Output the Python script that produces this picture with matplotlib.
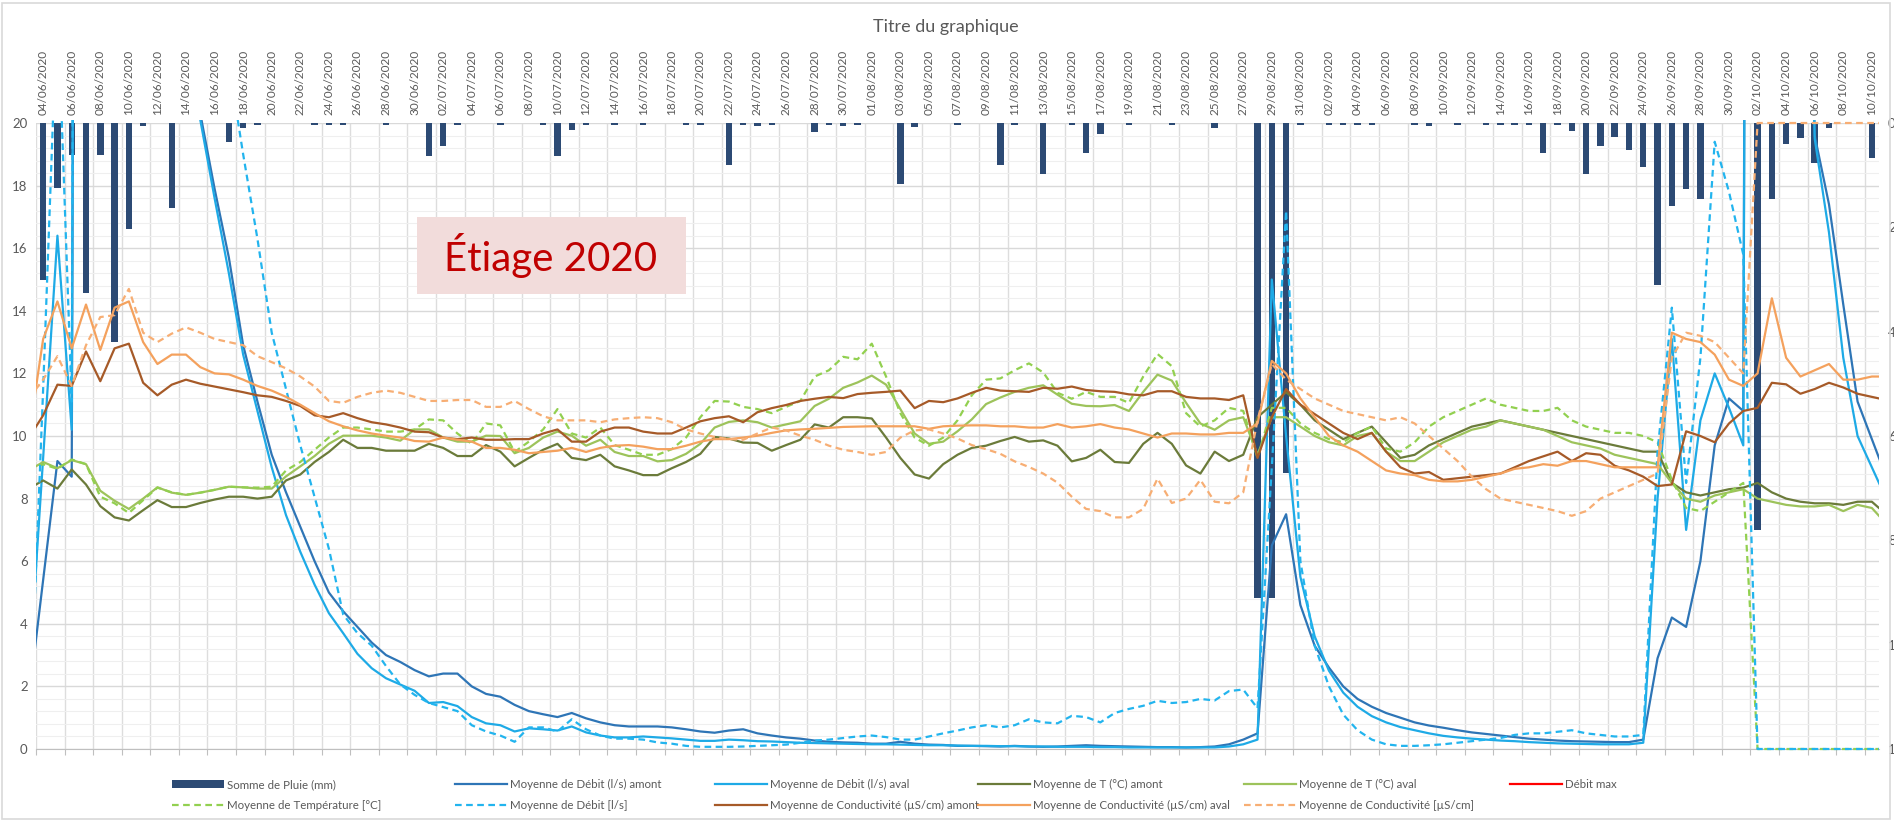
import numpy as np
import pandas as pd
import matplotlib
matplotlib.use('Agg')
import matplotlib.pyplot as plt
from matplotlib.patches import Rectangle, Patch
from matplotlib.lines import Line2D

plt.rcParams['font.family'] = ['Lato', 'DejaVu Sans']

W, H = 1894, 821
GREY_TXT = '#595959'

# daily values 03/06/2020 .. 11/10/2020 ; first and last day fall just outside the plot
dates = pd.date_range('2020-06-03', '2020-10-11', freq='D')

pluie = [0,
    3.0, 1.24, 0.61, 3.25, 0.61, 4.2, 2.04, 0.05, 0, 1.62,
    0, 0, 0, 0.37, 0.1, 0.03, 0, 0, 0, 0.03,
    0.03, 0.03, 0, 0, 0.03, 0, 0, 0.63, 0.45, 0.04,
    0, 0, 0.03, 0, 0, 0.03, 0.63, 0.13, 0.03, 0,
    0.03, 0, 0.03, 0, 0, 0.03, 0.03, 0, 0.81, 0.03,
    0.06, 0.03, 0, 0, 0.18, 0.03, 0.06, 0.03, 0, 0,
    1.16, 0.07, 0, 0, 0.03, 0, 0, 0.8, 0.03, 0,
    0.97, 0, 0.03, 0.57, 0.22, 0, 0.03, 0, 0, 0.03,
    0, 0, 0.09, 0, 0, 9.1, 9.1, 6.7, 0.03, 0,
    0.03, 0.03, 0.03, 0.03, 0, 0, 0.03, 0.05, 0, 0.03,
    0, 0.03, 0.03, 0.03, 0.03, 0.58, 0.03, 0.15, 0.97, 0.45,
    0.27, 0.52, 0.85, 3.1, 1.6, 1.27, 1.46, 0, 0, 0,
    7.8, 1.46, 0.4, 0.29, 0.77, 0.1, 0, 0, 0.67,
    0]

debit_amont = [1.6,
    5.4, 9.2, 8.7, 150, 120, 100, 90, 80, 70, 60,
    40, 20.3, 17.9, 15.7, 12.9, 11.1, 9.4, 8.2, 7.1, 6.0,
    5.0, 4.4, 3.9, 3.4, 3.0, 2.78, 2.52, 2.32, 2.41, 2.41,
    2.0, 1.76, 1.67, 1.41, 1.21, 1.11, 1.02, 1.15, 0.98, 0.85,
    0.76, 0.72, 0.72, 0.72, 0.69, 0.63, 0.56, 0.52, 0.59, 0.63,
    0.5, 0.43, 0.37, 0.33, 0.27, 0.23, 0.21, 0.2, 0.17, 0.17,
    0.23, 0.17, 0.14, 0.13, 0.1, 0.1, 0.09, 0.08, 0.1, 0.08,
    0.07, 0.08, 0.1, 0.12, 0.1, 0.09, 0.08, 0.07, 0.06, 0.06,
    0.05, 0.06, 0.08, 0.15, 0.3, 0.5, 6.5, 7.5, 4.6, 3.3,
    2.6, 2.0, 1.6, 1.35, 1.15, 1.0, 0.85, 0.75, 0.68, 0.6,
    0.53, 0.48, 0.43, 0.38, 0.33, 0.3, 0.27, 0.25, 0.24, 0.23,
    0.22, 0.22, 0.3, 2.9, 4.2, 3.9, 6.0, 9.7, 11.2, 10.8,
    150, 120, 80, 40, 19.6, 17.4, 14.2, 11.1, 9.9,
    8.7]

debit_aval = [2.3,
    9.3, 16.4, 10.2, 150, 120, 100, 90, 80, 70, 60,
    40, 20.1, 17.6, 15.2, 12.6, 10.8, 9.0, 7.47, 6.3, 5.25,
    4.34, 3.7, 3.04, 2.58, 2.26, 2.06, 1.86, 1.47, 1.5, 1.37,
    1.02, 0.82, 0.76, 0.56, 0.66, 0.63, 0.59, 0.72, 0.53, 0.43,
    0.37, 0.37, 0.4, 0.37, 0.34, 0.3, 0.26, 0.26, 0.3, 0.28,
    0.25, 0.24, 0.22, 0.2, 0.19, 0.18, 0.17, 0.16, 0.15, 0.15,
    0.14, 0.13, 0.12, 0.12, 0.11, 0.1, 0.1, 0.09, 0.09, 0.08,
    0.08, 0.07, 0.07, 0.07, 0.06, 0.06, 0.05, 0.05, 0.05, 0.05,
    0.05, 0.05, 0.05, 0.08, 0.15, 0.3, 15.0, 10.0, 5.5, 3.6,
    2.5, 1.8, 1.35, 1.05, 0.85, 0.7, 0.6, 0.5, 0.42, 0.37,
    0.33, 0.3, 0.27, 0.25, 0.22, 0.2, 0.18, 0.17, 0.16, 0.15,
    0.15, 0.15, 0.2, 8.0, 13.1, 7.0, 10.5, 12.0, 10.9, 9.7,
    150, 120, 80, 40, 19.5, 16.5, 12.5, 10.0, 9.0,
    8.0]

debit = [0,
    11.5, 24, 11.1, 150, 120, 100, 90, 80, 70, 60,
    40, 30, 25, 21.9, 19.0, 16.3, 13.3, 11.5, 9.7, 8.05,
    6.4, 4.3, 3.7, 3.3, 2.65, 2.06, 1.73, 1.47, 1.34, 1.21,
    0.76, 0.56, 0.43, 0.23, 0.69, 0.69, 0.56, 0.95, 0.63, 0.43,
    0.33, 0.33, 0.3, 0.21, 0.17, 0.1, 0.07, 0.07, 0.07, 0.08,
    0.1, 0.12, 0.14, 0.2, 0.27, 0.3, 0.35, 0.4, 0.43, 0.38,
    0.3, 0.3, 0.4, 0.5, 0.59, 0.69, 0.76, 0.69, 0.76, 0.95,
    0.85, 0.82, 1.06, 1.02, 0.85, 1.15, 1.28, 1.38, 1.54, 1.47,
    1.5, 1.6, 1.55, 1.85, 1.9, 1.3, 9.0, 17.2, 6.0, 3.3,
    2.0, 1.1, 0.6, 0.3, 0.15, 0.1, 0.1, 0.12, 0.15, 0.2,
    0.25, 0.3, 0.35, 0.45, 0.5, 0.5, 0.55, 0.6, 0.5, 0.45,
    0.4, 0.4, 0.45, 9.5, 14.1, 8.5, 12.5, 19.4, 17.8, 15.8,
    0, 0, 0, 0, 0, 0, 0, 0, 0,
    0]

t_amont = [8.32,
    8.58, 8.32, 8.93, 8.45, 7.76, 7.4, 7.3, 7.63, 7.95, 7.73,
    7.73, 7.86, 7.97, 8.06, 8.06, 8.0, 8.06, 8.58, 8.77, 9.17,
    9.49, 9.88, 9.62, 9.62, 9.53, 9.53, 9.53, 9.75, 9.62, 9.36,
    9.36, 9.71, 9.5, 9.03, 9.3, 9.56, 9.75, 9.3, 9.23, 9.4,
    9.03, 8.9, 8.75, 8.75, 8.97, 9.17, 9.43, 9.97, 9.92, 9.79,
    9.78, 9.53, 9.71, 9.88, 10.37, 10.27, 10.6, 10.6, 10.56, 9.95,
    9.3, 8.77, 8.64, 9.1, 9.4, 9.62, 9.69, 9.84, 9.97, 9.82,
    9.86, 9.69, 9.19, 9.3, 9.56, 9.17, 9.14, 9.75, 10.1, 9.75,
    9.06, 8.8, 9.5, 9.2, 9.4, 10.6, 11.0, 11.4, 11.0, 10.5,
    10.2, 9.9, 10.1, 10.3, 9.8, 9.3, 9.4, 9.7, 9.9, 10.1,
    10.3, 10.4, 10.5, 10.4, 10.3, 10.2, 10.1, 10.0, 9.9, 9.8,
    9.7, 9.6, 9.5, 9.5, 8.5, 8.2, 8.1, 8.2, 8.3, 8.35,
    8.5, 8.2, 8.0, 7.9, 7.85, 7.85, 7.8, 7.9, 7.9,
    7.5]

t_aval = [8.9,
    9.17, 8.97, 9.23, 9.1, 8.25, 7.93, 7.67, 8.0, 8.36, 8.19,
    8.12, 8.19, 8.28, 8.38, 8.36, 8.32, 8.32, 8.71, 9.03, 9.36,
    9.75, 10.01, 10.01, 10.01, 9.95, 9.85, 10.21, 10.21, 9.95, 9.82,
    9.82, 10.01, 10.0, 9.45, 9.62, 9.95, 10.14, 10.01, 9.69, 9.88,
    9.49, 9.36, 9.36, 9.19, 9.23, 9.43, 9.75, 10.27, 10.45, 10.5,
    10.44, 10.27, 10.37, 10.47, 10.96, 11.19, 11.54, 11.71, 11.93, 11.64,
    10.86, 10.08, 9.75, 9.82, 10.15, 10.53, 11.02, 11.23, 11.41, 11.54,
    11.62, 11.32, 11.03, 10.96, 10.95, 10.99, 10.8, 11.41, 11.96, 11.77,
    11.06, 10.4, 10.2, 10.5, 10.6, 9.4, 10.6, 10.6, 10.3, 10.0,
    9.8, 9.7, 10.0, 10.1, 9.5, 9.2, 9.2, 9.5, 9.8, 10.0,
    10.2, 10.3, 10.5, 10.4, 10.3, 10.2, 10.0, 9.8, 9.7, 9.6,
    9.4, 9.3, 9.2, 9.1, 8.5, 8.0, 7.9, 8.1, 8.2, 8.3,
    8.0, 7.9, 7.8, 7.75, 7.75, 7.8, 7.6, 7.8, 7.7,
    7.2]

temperature = [8.9,
    9.1, 8.95, 9.25, 9.1, 8.06, 7.85, 7.54, 7.95, 8.35, 8.2,
    8.12, 8.19, 8.28, 8.38, 8.36, 8.35, 8.38, 8.9, 9.17, 9.56,
    9.95, 10.27, 10.27, 10.21, 10.14, 10.14, 10.21, 10.53, 10.5, 10.08,
    9.75, 10.4, 10.34, 9.49, 9.82, 10.21, 10.86, 10.08, 9.95, 10.27,
    9.71, 9.56, 9.4, 9.4, 9.58, 9.95, 10.6, 11.12, 11.1, 10.93,
    10.86, 10.73, 10.93, 11.12, 11.9, 12.1, 12.53, 12.45, 12.95, 11.9,
    10.73, 9.95, 9.69, 9.95, 10.5, 11.3, 11.8, 11.84, 12.1, 12.32,
    12.03, 11.38, 11.19, 11.41, 11.25, 11.25, 11.06, 11.9, 12.62, 12.23,
    10.73, 10.3, 10.5, 10.9, 10.8, 9.3, 10.9, 10.9, 10.4, 10.1,
    9.9, 9.8, 10.1, 10.3, 9.6, 9.5, 9.8, 10.3, 10.6, 10.8,
    11.0, 11.2, 11.0, 10.9, 10.8, 10.8, 10.9, 10.5, 10.3, 10.2,
    10.1, 10.1, 10.0, 9.8, 8.6, 7.7, 7.6, 7.9, 8.2, 8.5,
    0, 0, 0, 0, 0, 0, 0, 0, 0,
    0]

cond_amont = [9.94,
    10.66, 11.64, 11.6, 12.7, 11.75, 12.8, 12.95, 11.7, 11.3, 11.64,
    11.8, 11.67, 11.58, 11.49, 11.4, 11.3, 11.25, 11.12, 10.96, 10.66,
    10.6, 10.73, 10.57, 10.44, 10.37, 10.27, 10.14, 10.12, 9.95, 9.9,
    9.95, 9.88, 9.88, 9.9, 9.9, 10.08, 10.21, 9.82, 9.82, 10.14,
    10.27, 10.27, 10.14, 10.08, 10.08, 10.27, 10.47, 10.57, 10.63, 10.44,
    10.76, 10.89, 10.99, 11.12, 11.19, 11.25, 11.21, 11.34, 11.38, 11.41,
    11.45, 10.89, 11.12, 11.08, 11.2, 11.38, 11.54, 11.45, 11.43, 11.41,
    11.54, 11.51, 11.58, 11.47, 11.43, 11.41, 11.33, 11.3, 11.43, 11.43,
    11.25, 11.2, 11.2, 11.15, 11.3, 9.3, 10.6, 11.5, 11.0, 10.7,
    10.4, 10.1, 9.9, 10.1, 9.5, 9.0, 8.8, 8.85, 8.6, 8.65,
    8.7, 8.75, 8.8, 9.0, 9.2, 9.35, 9.5, 9.2, 9.45, 9.4,
    9.05, 8.9, 8.7, 8.4, 8.45, 10.15, 10.0, 9.8, 10.4, 10.8,
    10.9, 11.7, 11.65, 11.35, 11.5, 11.7, 11.55, 11.35, 11.25,
    11.15]

cond_aval = [10.0,
    13.1, 14.3, 12.8, 14.2, 12.75, 14.1, 14.3, 13.0, 12.3, 12.6,
    12.6, 12.2, 12.0, 11.97, 11.8, 11.6, 11.45, 11.25, 11.0, 10.73,
    10.47, 10.31, 10.18, 10.08, 10.01, 9.95, 9.84, 9.82, 9.95, 9.88,
    9.82, 9.62, 9.62, 9.56, 9.45, 9.49, 9.53, 9.62, 9.49, 9.62,
    9.69, 9.71, 9.66, 9.58, 9.58, 9.69, 9.82, 9.9, 9.9, 9.95,
    10.01, 10.1, 10.18, 10.21, 10.23, 10.26, 10.29, 10.3, 10.31, 10.31,
    10.31, 10.31, 10.23, 10.31, 10.33, 10.34, 10.34, 10.31, 10.31, 10.27,
    10.27, 10.38, 10.27, 10.31, 10.38, 10.27, 10.21, 10.08, 9.95, 10.08,
    10.08, 10.05, 10.05, 10.1, 10.1, 10.4, 12.4, 12.0, 11.2, 10.6,
    10.0, 9.7, 9.5, 9.2, 8.9, 8.8, 8.75, 8.6, 8.55, 8.55,
    8.6, 8.7, 8.8, 8.95, 9.0, 9.1, 9.05, 9.2, 9.2, 9.1,
    9.0, 9.0, 9.0, 9.0, 13.3, 13.1, 13.0, 12.6, 11.8, 11.6,
    12.0, 14.4, 12.5, 11.9, 12.1, 12.3, 11.8, 11.8, 11.9,
    11.9]

conductivite = [11.2,
    11.8, 12.55, 11.6, 12.9, 13.8, 13.86, 14.7, 13.3, 13.0, 13.27,
    13.47, 13.3, 13.1, 13.0, 12.9, 12.55, 12.36, 12.16, 11.9, 11.58,
    11.12, 11.06, 11.25, 11.38, 11.45, 11.38, 11.25, 11.12, 11.12, 11.15,
    11.15, 10.93, 10.93, 11.12, 10.86, 10.63, 10.5, 10.5, 10.5, 10.44,
    10.53, 10.57, 10.6, 10.57, 10.44, 10.21, 10.08, 9.97, 9.9, 9.88,
    10.08, 10.27, 10.18, 10.01, 9.88, 9.69, 9.56, 9.49, 9.4, 9.49,
    9.95, 10.18, 10.21, 10.08, 9.92, 9.71, 9.58, 9.43, 9.19, 9.01,
    8.8, 8.51, 8.06, 7.67, 7.6, 7.4, 7.4, 7.67, 8.64, 7.86,
    8.0, 8.6, 7.9, 7.85, 8.2, 10.5, 12.3, 11.8, 11.5, 11.2,
    11.0, 10.8, 10.7, 10.6, 10.5, 10.6, 10.4, 10.0, 9.6, 9.2,
    8.7, 8.3, 8.0, 7.9, 7.8, 7.7, 7.6, 7.45, 7.6, 8.0,
    8.2, 8.4, 8.6, 8.8, 12.5, 13.3, 13.2, 13.0, 12.5, 12.0,
    20, 20, 20, 20, 20, 20, 20, 20, 20,
    20]

for s in (pluie, debit_amont, debit_aval, debit, t_amont, t_aval, temperature,
          cond_amont, cond_aval, conductivite):
    assert len(s) == len(dates), len(s)

x = np.arange(len(dates)) - 1          # 04/06/2020 -> 0
xlim = (-0.5, 128.5)

fig = plt.figure(figsize=(W / 100, H / 100), dpi=100)
rect = [36 / W, 1 - 749 / H, (1879 - 36) / W, (749 - 123) / H]

# background axes: grid + left scale
axg = fig.add_axes(rect)
axg.set_xlim(*xlim)
axg.set_ylim(0, 20)
axg.set_yticks(np.arange(0, 21, 2))
axg.set_yticks(np.arange(0, 20.01, 0.4), minor=True)
axg.set_xticks(np.arange(-0.5, 129, 2))
axg.set_xticklabels([])
axg.grid(axis='y', which='major', color='#D9D9D9', lw=1.0)
axg.grid(axis='y', which='minor', color='#EFEFEF', lw=0.8)
axg.grid(axis='x', which='major', color='#DDDDDD', lw=1.0)
axg.tick_params(axis='y', which='both', length=0, pad=6, labelsize=9.5, labelcolor=GREY_TXT)
axg.tick_params(axis='x', length=4, direction='out', color='#BFBFBF', pad=0)
for side in ('top', 'right', 'left'):
    axg.spines[side].set_visible(False)
axg.spines['bottom'].set_color('#BFBFBF')

# rain bars on the inverted secondary scale, dates on top
axb = fig.add_axes(rect)
axb.patch.set_visible(False)
axb.set_xlim(*xlim)
axb.set_ylim(12, 0)
axb.bar(x, pluie, width=0.45, color='#2C4A74', zorder=2)
axb.yaxis.tick_right()
axb.set_yticks(np.arange(0, 13, 2))
axb.tick_params(axis='y', length=0, pad=6.5, labelsize=9.5, labelcolor=GREY_TXT)
axb.xaxis.tick_top()
ticks = np.arange(0, 129, 2)
axb.set_xticks(ticks)
axb.set_xticklabels([dates[t + 1].strftime('%d/%m/%Y') for t in ticks], rotation=90)
axb.tick_params(axis='x', length=0, pad=6, labelsize=8.5, labelcolor=GREY_TXT)
for sp in axb.spines.values():
    sp.set_visible(False)

# lines
axl = fig.add_axes(rect)
axl.patch.set_visible(False)
axl.set_xlim(*xlim)
axl.set_ylim(0, 20)
axl.axis('off')
clip = Rectangle((0, -0.004), 1, 1.008, transform=axl.transAxes, visible=False)
axl.add_patch(clip)

DASH = (0, (3, 2))
series = [
    (debit_amont, '#2E75B6', '-', 'Moyenne de Débit (l/s) amont'),
    (debit_aval, '#1EAAE6', '-', 'Moyenne de Débit (l/s) aval'),
    (t_amont, '#6B7B3A', '-', 'Moyenne de T (°C) amont'),
    (t_aval, '#9DC35B', '-', 'Moyenne de T (°C) aval'),
    (temperature, '#92D050', DASH, 'Moyenne de Température [°C]'),
    (debit, '#22B4EE', DASH, 'Moyenne de Débit [l/s]'),
    (cond_amont, '#A65A28', '-', 'Moyenne de Conductivité (µS/cm) amont'),
    (cond_aval, '#F4A15D', '-', 'Moyenne de Conductivité (µS/cm) aval'),
    (conductivite, '#F7AE74', DASH, 'Moyenne de Conductivité [µS/cm]'),
]
handles = {}
for vals, col, ls, lab in series:
    ln, = axl.plot(x, vals, color=col, ls=ls, lw=1.6, label=lab)
    ln.set_clip_path(clip)
    handles[lab] = ln
handles['Débit max'] = Line2D([], [], color='#FF0000', lw=1.6)
handles['Somme de Pluie (mm)'] = Patch(facecolor='#2C4A74')

# title and annotation box
fig.text(0.4995, 0.967, 'Titre du graphique', ha='center', va='center',
         fontsize=13, color=GREY_TXT)
fig.patches.append(Rectangle((417 / W, 1 - 294 / H), 269 / W, 77 / H,
                             transform=fig.transFigure, facecolor='#F2DCDB',
                             edgecolor='none', zorder=5))
fig.text(551 / W, 1 - 256 / H, 'Étiage 2020', ha='center', va='center',
         fontsize=29, color='#C00000', zorder=6)

# legend, one block per column so the columns keep Excel's even spacing
columns = [
    ['Somme de Pluie (mm)', 'Moyenne de Température [°C]'],
    ['Moyenne de Débit (l/s) amont', 'Moyenne de Débit [l/s]'],
    ['Moyenne de Débit (l/s) aval', 'Moyenne de Conductivité (µS/cm) amont'],
    ['Moyenne de T (°C) amont', 'Moyenne de Conductivité (µS/cm) aval'],
    ['Moyenne de T (°C) aval', 'Moyenne de Conductivité [µS/cm]'],
    ['Débit max'],
]
col_x = [172, 455, 715, 978, 1244, 1510]
for labs, cx in zip(columns, col_x):
    leg = fig.legend([handles[l] for l in labs], labs, loc='upper left',
                     bbox_to_anchor=(cx / W, 1 - 779 / H), frameon=False,
                     fontsize=8.3, handlelength=4.5, handletextpad=0.3,
                     labelspacing=0.85, borderpad=0, borderaxespad=0)
    for t in leg.get_texts():
        t.set_color(GREY_TXT)

fig.patches.append(Rectangle((0.001, 0.002), 0.997, 0.994, transform=fig.transFigure,
                             facecolor='none', edgecolor='#D9D9D9', lw=1.2))

fig.savefig('out.png', dpi=100)
